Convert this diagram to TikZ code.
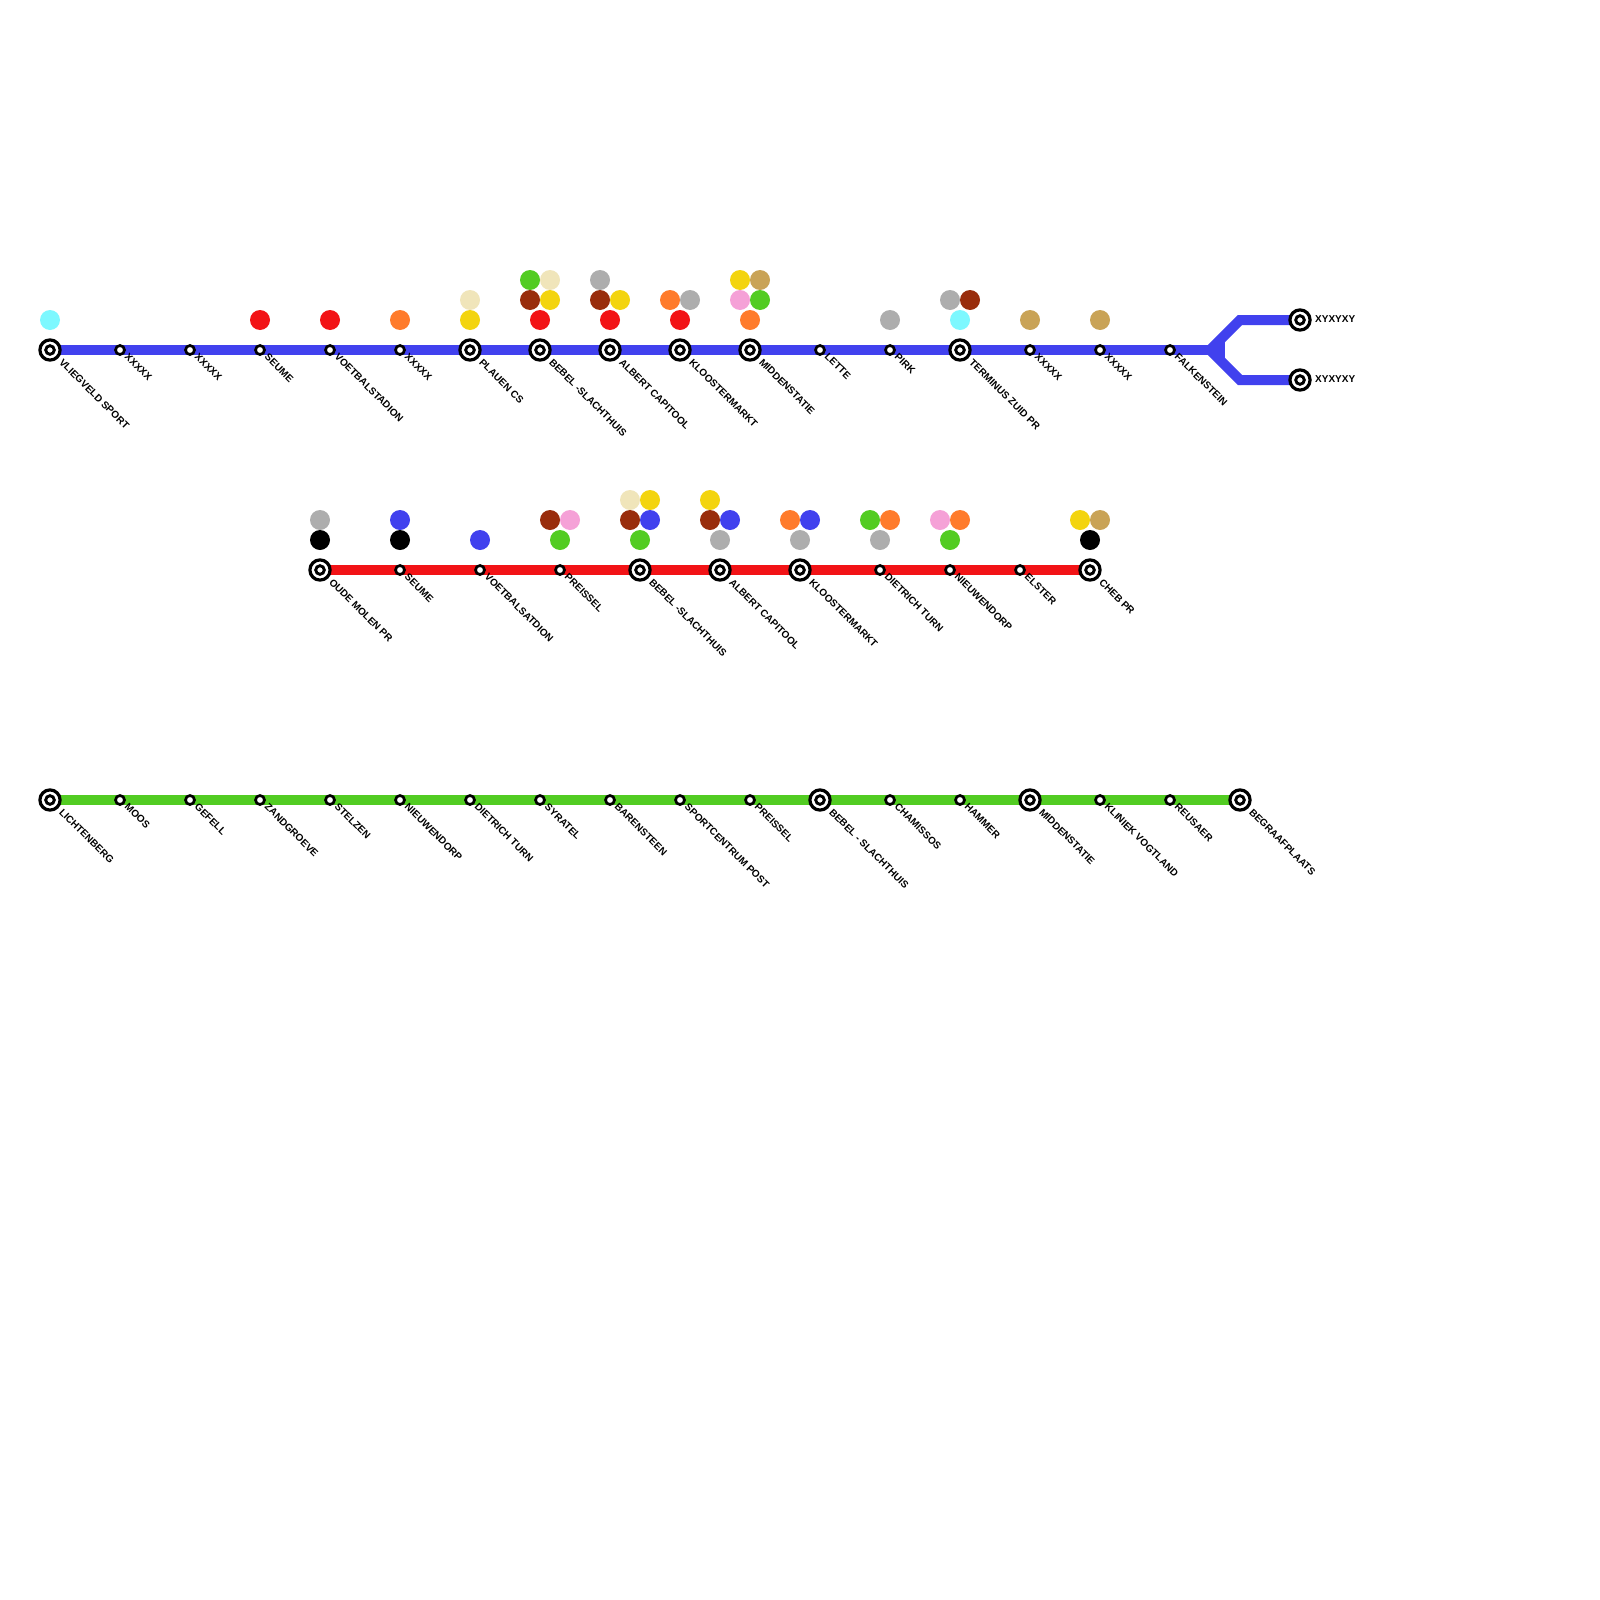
\documentclass[tikz,border=0pt]{standalone}
\usepackage{fontspec}
\setmainfont{Liberation Sans}
\usepackage{tikz}
\usetikzlibrary{backgrounds}

\definecolor{lineblue}{HTML}{4141EE}
\definecolor{linered}{HTML}{F21316}
\definecolor{linegreen}{HTML}{52CC22}
\definecolor{dotcream}{HTML}{F0E5BA}
\definecolor{dotyellow}{HTML}{F3D40F}
\definecolor{dotbrown}{HTML}{992D0C}
\definecolor{dotgray}{HTML}{ADADAD}
\definecolor{dotorange}{HTML}{FF7B2B}
\definecolor{dotpink}{HTML}{F5A1D7}
\definecolor{dottan}{HTML}{C9A356}
\definecolor{dotcyan}{HTML}{7DF8FF}

\begin{document}
\begin{tikzpicture}[x=1pt, y=-1pt,
    bigstn/.style={circle, draw, fill=white, line width=3.2pt, minimum size=20.2pt, inner sep=0pt,
      path picture={\draw[line width=2.9pt] (path picture bounding box.center) circle (4.3pt);}},
    smallstn/.style={circle, draw, fill=white, line width=2.7pt, minimum size=9pt, inner sep=0pt},
    colordot/.style={circle, fill=#1, minimum size=20pt, inner sep=0pt},
    stnlabel/.style={rotate=-45, anchor=west, inner sep=0pt, font=\fontsize{10}{10}\selectfont\bfseries},
    endlabel/.style={anchor=west, inner sep=0pt, font=\fontsize{10}{10}\selectfont\bfseries},
    track/.style={line width=10pt, draw=#1}]
  \useasboundingbox (0,0) rectangle (1600,1600);

  \node[bigstn] (b1) at (50,350) {};       \node[stnlabel] (bn1) at (61,360.5) {VLIEGVELD SPORT};
  \node[smallstn] (b2) at (120,350) {};    \node[stnlabel] (bn2) at (126.5,355) {XXXXX};
  \node[smallstn] (b3) at (190,350) {};    \node[stnlabel] (bn3) at (196.5,355) {XXXXX};
  \node[smallstn] (b4) at (260,350) {};    \node[stnlabel] (bn4) at (266.5,355) {SEUME};
  \node[smallstn] (b5) at (330,350) {};    \node[stnlabel] (bn5) at (336.5,355) {VOETBALSTADION};
  \node[smallstn] (b6) at (400,350) {};    \node[stnlabel] (bn6) at (406.5,355) {XXXXX};
  \node[bigstn] (b7) at (470,350) {};      \node[stnlabel] (bn7) at (481,360.5) {PLAUEN CS};
  \node[bigstn] (b8) at (540,350) {};      \node[stnlabel] (bn8) at (551,360.5) {BEBEL -SLACHTHUIS};
  \node[bigstn] (b9) at (610,350) {};      \node[stnlabel] (bn9) at (621,360.5) {ALBERT CAPITOOL};
  \node[bigstn] (b10) at (680,350) {};     \node[stnlabel] (bn10) at (691,360.5) {KLOOSTERMARKT};
  \node[bigstn] (b11) at (750,350) {};     \node[stnlabel] (bn11) at (761,360.5) {MIDDENSTATIE};
  \node[smallstn] (b12) at (820,350) {};   \node[stnlabel] (bn12) at (826.5,355) {LETTE};
  \node[smallstn] (b13) at (890,350) {};   \node[stnlabel] (bn13) at (896.5,355) {PIRK};
  \node[bigstn] (b14) at (960,350) {};     \node[stnlabel] (bn14) at (971,360.5) {TERMINUS ZUID PR};
  \node[smallstn] (b15) at (1030,350) {};  \node[stnlabel] (bn15) at (1036.5,355) {XXXXX};
  \node[smallstn] (b16) at (1100,350) {};  \node[stnlabel] (bn16) at (1106.5,355) {XXXXX};
  \node[smallstn] (b17) at (1170,350) {};  \node[stnlabel] (bn17) at (1176.5,355) {FALKENSTEIN};
  \node[bigstn] (t1) at (1300,320) {};     \node[endlabel] (tn1) at (1315,319) {XYXYXY};
  \node[bigstn] (t2) at (1300,380) {};     \node[endlabel] (tn2) at (1315,379) {XYXYXY};
  \coordinate (fork) at (1210,350);
  \coordinate (upper) at (1240,320);
  \coordinate (lower) at (1240,380);
  \coordinate (web1) at (1220,340);
  \coordinate (web2) at (1220,360);

  \node[colordot=dotcyan] (d1) at (50,320) {};
  \node[colordot=linered] (d2) at (260,320) {};
  \node[colordot=linered] (d3) at (330,320) {};
  \node[colordot=dotorange] (d4) at (400,320) {};
  \node[colordot=dotcream] (d5) at (470,300) {};
  \node[colordot=dotyellow] (d6) at (470,320) {};
  \node[colordot=linegreen] (d7) at (530,280) {};
  \node[colordot=dotcream] (d8) at (550,280) {};
  \node[colordot=dotbrown] (d9) at (530,300) {};
  \node[colordot=dotyellow] (d10) at (550,300) {};
  \node[colordot=linered] (d11) at (540,320) {};
  \node[colordot=dotgray] (d12) at (600,280) {};
  \node[colordot=dotbrown] (d13) at (600,300) {};
  \node[colordot=dotyellow] (d14) at (620,300) {};
  \node[colordot=linered] (d15) at (610,320) {};
  \node[colordot=dotorange] (d16) at (670,300) {};
  \node[colordot=dotgray] (d17) at (690,300) {};
  \node[colordot=linered] (d18) at (680,320) {};
  \node[colordot=dotyellow] (d19) at (740,280) {};
  \node[colordot=dottan] (d20) at (760,280) {};
  \node[colordot=dotpink] (d21) at (740,300) {};
  \node[colordot=linegreen] (d22) at (760,300) {};
  \node[colordot=dotorange] (d23) at (750,320) {};
  \node[colordot=dotgray] (d24) at (890,320) {};
  \node[colordot=dotgray] (d25) at (950,300) {};
  \node[colordot=dotbrown] (d26) at (970,300) {};
  \node[colordot=dotcyan] (d27) at (960,320) {};
  \node[colordot=dottan] (d28) at (1030,320) {};
  \node[colordot=dottan] (d29) at (1100,320) {};

  \node[bigstn] (r1) at (320,570) {};      \node[stnlabel] (rn1) at (331,580.5) {OUDE MOLEN PR};
  \node[smallstn] (r2) at (400,570) {};    \node[stnlabel] (rn2) at (406.5,575) {SEUME};
  \node[smallstn] (r3) at (480,570) {};    \node[stnlabel] (rn3) at (486.5,575) {VOETBALSATDION};
  \node[smallstn] (r4) at (560,570) {};    \node[stnlabel] (rn4) at (566.5,575) {PREISSEL};
  \node[bigstn] (r5) at (640,570) {};      \node[stnlabel] (rn5) at (651,580.5) {BEBEL -SLACHTHUIS};
  \node[bigstn] (r6) at (720,570) {};      \node[stnlabel] (rn6) at (731,580.5) {ALBERT CAPITOOL};
  \node[bigstn] (r7) at (800,570) {};      \node[stnlabel] (rn7) at (811,580.5) {KLOOSTERMARKT};
  \node[smallstn] (r8) at (880,570) {};    \node[stnlabel] (rn8) at (886.5,575) {DIETRICH TURN};
  \node[smallstn] (r9) at (950,570) {};    \node[stnlabel] (rn9) at (956.5,575) {NIEUWENDORP};
  \node[smallstn] (r10) at (1020,570) {};  \node[stnlabel] (rn10) at (1026.5,575) {ELSTER};
  \node[bigstn] (r11) at (1090,570) {};    \node[stnlabel] (rn11) at (1101,580.5) {CHEB PR};

  \node[colordot=dotgray] (e1) at (320,520) {};
  \node[colordot=black] (e2) at (320,540) {};
  \node[colordot=lineblue] (e3) at (400,520) {};
  \node[colordot=black] (e4) at (400,540) {};
  \node[colordot=lineblue] (e5) at (480,540) {};
  \node[colordot=dotbrown] (e6) at (550,520) {};
  \node[colordot=dotpink] (e7) at (570,520) {};
  \node[colordot=linegreen] (e8) at (560,540) {};
  \node[colordot=dotcream] (e9) at (630,500) {};
  \node[colordot=dotyellow] (e10) at (650,500) {};
  \node[colordot=dotbrown] (e11) at (630,520) {};
  \node[colordot=lineblue] (e12) at (650,520) {};
  \node[colordot=linegreen] (e13) at (640,540) {};
  \node[colordot=dotyellow] (e14) at (710,500) {};
  \node[colordot=dotbrown] (e15) at (710,520) {};
  \node[colordot=lineblue] (e16) at (730,520) {};
  \node[colordot=dotgray] (e17) at (720,540) {};
  \node[colordot=dotorange] (e18) at (790,520) {};
  \node[colordot=lineblue] (e19) at (810,520) {};
  \node[colordot=dotgray] (e20) at (800,540) {};
  \node[colordot=linegreen] (e21) at (870,520) {};
  \node[colordot=dotorange] (e22) at (890,520) {};
  \node[colordot=dotgray] (e23) at (880,540) {};
  \node[colordot=dotpink] (e24) at (940,520) {};
  \node[colordot=dotorange] (e25) at (960,520) {};
  \node[colordot=linegreen] (e26) at (950,540) {};
  \node[colordot=dotyellow] (e27) at (1080,520) {};
  \node[colordot=dottan] (e28) at (1100,520) {};
  \node[colordot=black] (e29) at (1090,540) {};

  \node[bigstn] (g1) at (50,800) {};       \node[stnlabel] (gn1) at (61,810.5) {LICHTENBERG};
  \node[smallstn] (g2) at (120,800) {};    \node[stnlabel] (gn2) at (126.5,805) {MOOS};
  \node[smallstn] (g3) at (190,800) {};    \node[stnlabel] (gn3) at (196.5,805) {GEFELL};
  \node[smallstn] (g4) at (260,800) {};    \node[stnlabel] (gn4) at (266.5,805) {ZANDGROEVE};
  \node[smallstn] (g5) at (330,800) {};    \node[stnlabel] (gn5) at (336.5,805) {STELZEN};
  \node[smallstn] (g6) at (400,800) {};    \node[stnlabel] (gn6) at (406.5,805) {NIEUWENDORP};
  \node[smallstn] (g7) at (470,800) {};    \node[stnlabel] (gn7) at (476.5,805) {DIETRICH TURN};
  \node[smallstn] (g8) at (540,800) {};    \node[stnlabel] (gn8) at (546.5,805) {SYRATEL};
  \node[smallstn] (g9) at (610,800) {};    \node[stnlabel] (gn9) at (616.5,805) {BARENSTEEN};
  \node[smallstn] (g10) at (680,800) {};   \node[stnlabel] (gn10) at (686.5,805) {SPORTCENTRUM POST};
  \node[smallstn] (g11) at (750,800) {};   \node[stnlabel] (gn11) at (756.5,805) {PREISSEL};
  \node[bigstn] (g12) at (820,800) {};     \node[stnlabel] (gn12) at (831,810.5) {BEBEL - SLACHTHUIS};
  \node[smallstn] (g13) at (890,800) {};   \node[stnlabel] (gn13) at (896.5,805) {CHAMISSOS};
  \node[smallstn] (g14) at (960,800) {};   \node[stnlabel] (gn14) at (966.5,805) {HAMMER};
  \node[bigstn] (g15) at (1030,800) {};    \node[stnlabel] (gn15) at (1041,810.5) {MIDDENSTATIE};
  \node[smallstn] (g16) at (1100,800) {};  \node[stnlabel] (gn16) at (1106.5,805) {KLINIEK VOGTLAND};
  \node[smallstn] (g17) at (1170,800) {};  \node[stnlabel] (gn17) at (1176.5,805) {REUSAER};
  \node[bigstn] (g18) at (1240,800) {};    \node[stnlabel] (gn18) at (1251,810.5) {BEGRAAFPLAATS};

  \begin{scope}[on background layer]
    \draw[track=lineblue] (b1.center)--(b2.center)--(b3.center)--(b4.center)--(b5.center)--(b6.center)--(b7.center)--(b8.center)--(b9.center);
    \draw[track=lineblue] (b9.center)--(b10.center)--(b11.center)--(b12.center)--(b13.center)--(b14.center)--(b15.center)--(b16.center)--(b17.center)--(fork);
    \draw[track=lineblue] (fork)--(upper)--(t1.center);
    \draw[track=lineblue] (fork)--(lower)--(t2.center);
    \draw[track=lineblue] (web1)--(web2);
    \draw[track=linered] (r1.center)--(r2.center)--(r3.center)--(r4.center)--(r5.center)--(r6.center)--(r7.center)--(r8.center)--(r9.center)--(r10.center)--(r11.center);
    \draw[track=linegreen] (g1.center)--(g2.center)--(g3.center)--(g4.center)--(g5.center)--(g6.center)--(g7.center)--(g8.center)--(g9.center);
    \draw[track=linegreen] (g9.center)--(g10.center)--(g11.center)--(g12.center)--(g13.center)--(g14.center)--(g15.center)--(g16.center)--(g17.center)--(g18.center);
  \end{scope}
\end{tikzpicture}
\end{document}
